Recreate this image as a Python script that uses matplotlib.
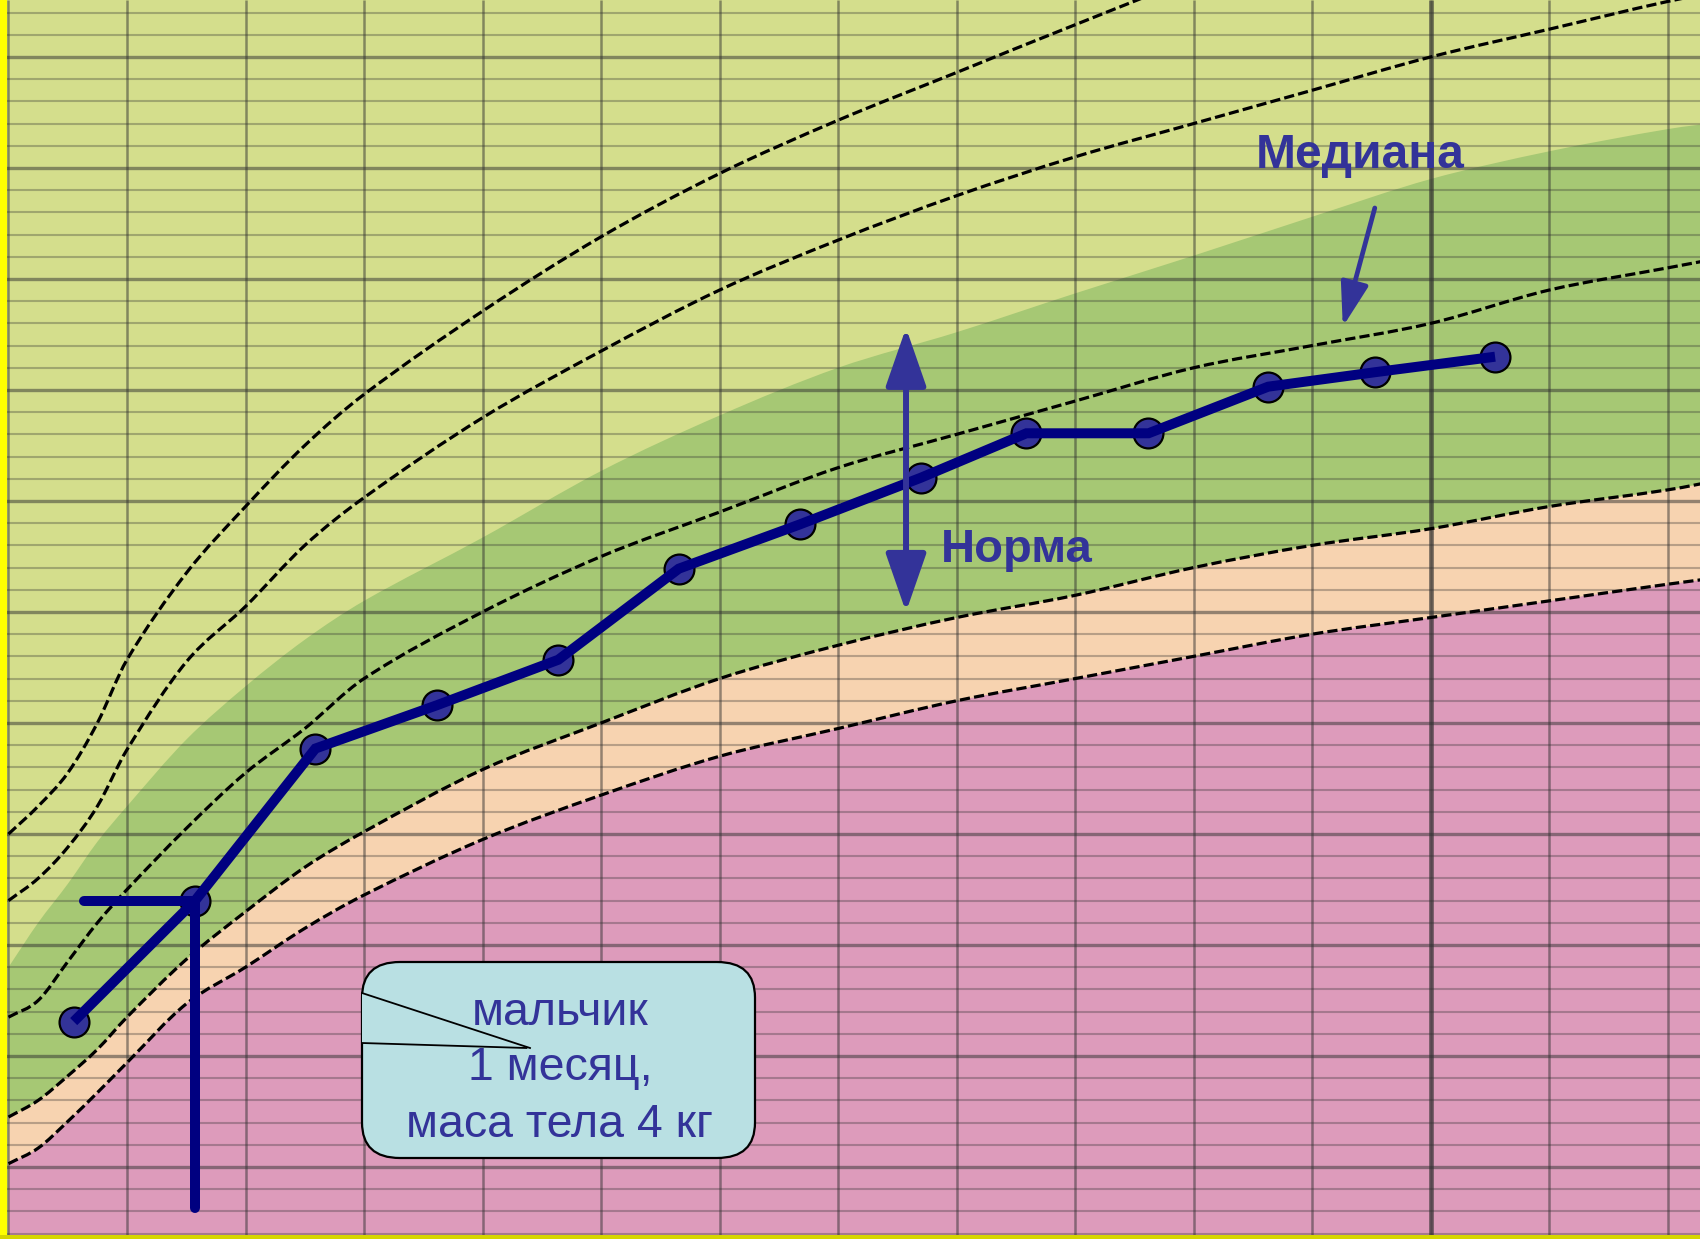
import numpy as np
import matplotlib
matplotlib.use("Agg")
import matplotlib.pyplot as plt
from matplotlib.patches import FancyBboxPatch, FancyArrowPatch, Rectangle, PathPatch
from matplotlib.path import Path

plt.rcParams['font.family'] = ['Liberation Sans', 'DejaVu Sans']

# ---- reference curves (age in months, weight in kg) ----
months = [0, 0.25, 0.5, 0.75, 1, 1.5, 2, 2.5, 3, 4, 5, 6, 7, 8, 9, 10, 11, 12, 13, 14, 14.5]
sd_plus3 = [5.0, 5.25, 5.55, 6.0, 6.57, 7.35, 7.95, 8.5, 8.96, 9.71, 10.38, 10.95, 11.43, 11.86, 12.29, 12.7, 13.0, 13.3, 13.6, 13.9, 14.0]
sd_plus2 = [4.4, 4.6, 4.88, 5.25, 5.76, 6.55, 7.05, 7.6, 8.03, 8.75, 9.35, 9.9, 10.35, 10.75, 11.1, 11.4, 11.7, 12.0, 12.25, 12.5, 12.6]
median = [3.35, 3.5, 3.85, 4.2, 4.5, 5.05, 5.55, 5.95, 6.4, 7.0, 7.5, 7.9, 8.3, 8.6, 8.9, 9.2, 9.4, 9.6, 9.9, 10.1, 10.2]
sd_minus2 = [2.45, 2.6, 2.82, 3.06, 3.35, 3.87, 4.3, 4.7, 5.02, 5.58, 6.0, 6.4, 6.7, 6.95, 7.15, 7.4, 7.6, 7.75, 7.95, 8.1, 8.2]
sd_minus3 = [2.03, 2.17, 2.41, 2.67, 2.94, 3.47, 3.8, 4.15, 4.45, 4.95, 5.35, 5.7, 5.95, 6.2, 6.4, 6.6, 6.8, 6.95, 7.1, 7.25, 7.32]
norm_upper = [3.8, 4.2, 4.55, 4.93, 5.25, 5.85, 6.33, 6.75, 7.1, 7.67, 8.27, 8.77, 9.2, 9.52, 9.87, 10.21, 10.56, 10.9, 11.15, 11.35, 11.42]

# ---- child's measurements ----
child_age = [0.55, 1.575, 2.59, 3.615, 4.64, 5.656, 6.68, 7.70, 8.59, 9.62, 10.63, 11.53, 12.545]
child_weight = [3.31, 4.40, 5.77, 6.16, 6.57, 7.39, 7.79, 8.21, 8.61, 8.61, 9.03, 9.16, 9.30]

# texts
label_median = "Медиана"
label_norm = "Норма"
bubble_lines = ["мальчик", "1 месяц,", "маса тела 4 кг"]

# colours
c_light = '#D4DE8C'
c_green = '#A6C874'
c_peach = '#F7D3B0'
c_pink = '#DD9BBB'
c_text = '#333399'
c_line = '#000080'


def smooth(xs, ys):
    """Cubic Bezier path through the given points (Hermite tangents)."""
    xs = np.asarray(xs, float)
    ys = np.asarray(ys, float)
    n = len(xs)
    m = np.empty(n)
    m[1:-1] = (ys[2:] - ys[:-2]) / (xs[2:] - xs[:-2])
    m[0] = (ys[1] - ys[0]) / (xs[1] - xs[0])
    m[-1] = (ys[-1] - ys[-2]) / (xs[-1] - xs[-2])
    verts = [(xs[0], ys[0])]
    codes = [Path.MOVETO]
    for i in range(n - 1):
        h = xs[i + 1] - xs[i]
        verts += [(xs[i] + h / 3, ys[i] + m[i] * h / 3),
                  (xs[i + 1] - h / 3, ys[i + 1] - m[i + 1] * h / 3),
                  (xs[i + 1], ys[i + 1])]
        codes += [Path.CURVE4] * 3
    return verts, codes


def band(xs, lower, upper):
    vu, cu = smooth(xs, upper)
    vl, cl = smooth(xs[::-1], lower[::-1])
    cl[0] = Path.LINETO
    return Path(vu + vl + [vu[0]], cu + cl + [Path.CLOSEPOLY])


fig = plt.figure(figsize=(17, 12.39), dpi=100)
fig.patch.set_facecolor(c_light)
ax = fig.add_axes([0, 0, 1, 1])
ax.set_facecolor(c_light)
x0, x1 = -8.5 / 118.5, (1700 - 8.5) / 118.5
y0, y1 = 4 - (1239 - 945) / 111.0, 4 + 945 / 111.0
ax.set_xlim(x0, x1)
ax.set_ylim(y0, y1)
ax.set_xticks([]); ax.set_yticks([])
for s in ax.spines.values():
    s.set_visible(False)

# zones
floor = [y0] * len(months)
ax.add_patch(PathPatch(band(months, floor, sd_minus3), fc=c_pink, ec='none', zorder=0.1))
ax.add_patch(PathPatch(band(months, sd_minus3, sd_minus2), fc=c_peach, ec='none', zorder=0.1))
ax.add_patch(PathPatch(band(months, sd_minus2, norm_upper), fc=c_green, ec='none', zorder=0.1))

# grid
minor_y = [v for v in np.round(np.arange(1.4, 12.51, 0.2), 1) if abs(v - round(v)) > 1e-6]
major_y = list(range(2, 13))
ax.hlines(minor_y, x0, x1, color='#303030', alpha=0.32, lw=1.5, zorder=1)
ax.hlines(major_y, x0, x1, color='#303030', alpha=0.5, lw=2.4, zorder=1)
ax.vlines(range(0, 15), y0, y1, color='#303030', alpha=0.5, lw=1.8, zorder=1)
ax.vlines([12], y0, y1, color='#303030', alpha=0.55, lw=3.6, zorder=1)

# reference curves
for curve in (sd_plus3, sd_plus2, median, sd_minus2, sd_minus3):
    v, c = smooth(months, curve)
    ax.add_patch(PathPatch(Path(v, c), fill=False, ec='black', lw=2.3,
                           linestyle=(0, (3.2, 1.3)), zorder=2))

# frame strips
ax.add_patch(Rectangle((x0, y0), (7 / 118.5), y1 - y0, color='#FFFF00', lw=0, zorder=3))
ax.add_patch(Rectangle((x0, y0), x1 - x0, 4 / 111.0, color='#D6D600', lw=0, zorder=3))

# crosshair for 1 month
ax.plot([0.637, 1.574], [4.396, 4.396], color=c_line, lw=7.2, solid_capstyle='round', zorder=7)
ax.plot([1.574, 1.574], [4.396, 1.63], color=c_line, lw=7.2, solid_capstyle='round', zorder=7)

# child's growth line
ax.plot(child_age, child_weight, 'o', ms=21.5, mfc='#333399', mec='black', mew=1.6, zorder=5)
ax.plot(child_age, child_weight, color=c_line, lw=7.2, solid_capstyle='butt', solid_joinstyle='miter', zorder=6)

# median label and arrow
ax.text(11.41, 11.0, label_median, color=c_text, fontsize=34.5, fontweight='bold',
        ha='center', va='baseline', zorder=8)
ax.add_patch(FancyArrowPatch((11.53, 10.64), (11.26, 9.57),
                             arrowstyle='-|>,head_length=27,head_width=8.5',
                             mutation_scale=1, color=c_text, lw=3.4,
                             shrinkA=0, shrinkB=0, zorder=8))

# norm double arrow and label
ax.add_patch(FancyArrowPatch((7.574, 7.0), (7.574, 9.56),
                             arrowstyle='<|-|>,head_length=36,head_width=12.5',
                             mutation_scale=1, color=c_text, lw=4.3,
                             shrinkA=0, shrinkB=0, zorder=8))
ax.text(8.51, 7.45, label_norm, color=c_text, fontsize=34, fontweight='bold',
        ha='center', va='baseline', zorder=8)

# speech bubble
bx0, bx1 = (362 - 8.5) / 118.5, (755 - 8.5) / 118.5
by0, by1 = 4 - (1158 - 945) / 111.0, 4 - (962 - 945) / 111.0
c_bub = '#B9E0E3'
ax.add_patch(FancyBboxPatch((bx0, by0), bx1 - bx0, by1 - by0,
                            boxstyle='round,pad=0,rounding_size=0.32',
                            fc=c_bub, ec='black', lw=1.6, zorder=9))
t_top = 4 - (993 - 945) / 111.0
t_bot = 4 - (1043 - 945) / 111.0
tip = ((530 - 8.5) / 118.5, 4 - (1048 - 945) / 111.0)
ax.add_patch(Rectangle((bx0 - 0.004, t_bot), 0.03, t_top - t_bot, fc=c_bub, ec='none', zorder=9.5))
ax.plot([bx0, tip[0]], [t_top, tip[1]], color='black', lw=1.3, zorder=9.6)
ax.plot([bx0, tip[0] - 0.03], [t_bot, tip[1]], color='black', lw=1.3, zorder=9.6)

bx_c = (560 - 8.5) / 118.5
for line, py in zip(bubble_lines, [1013, 1068, 1125]):
    ax.text(bx_c, 4 - (py - 945) / 111.0, line, color=c_text, fontsize=33.5,
            ha='center', va='center', zorder=10)

fig.savefig('out.png', dpi=100, facecolor=fig.get_facecolor())
